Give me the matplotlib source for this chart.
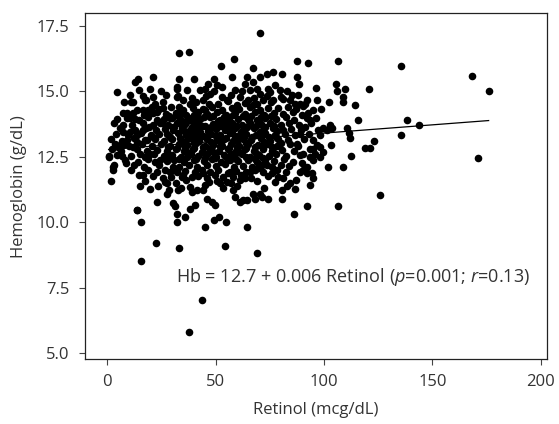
import matplotlib.pyplot as plt
import numpy as np

# (retinol mcg/dL, hemoglobin g/dL), by region
outlier_points = [
    (70.5, 17.24), (33.2, 16.44), (37.7, 16.51), (58.5, 16.22), (52.6, 15.97),
    (67.4, 15.88), (87.7, 16.15), (92.6, 16.06), (106.6, 16.15), (135.7, 15.97),
    (168.5, 15.57), (176.0, 15.00), (170.9, 12.44), (120.9, 15.08), (114.5, 14.47),
    (115.7, 13.89), (138.5, 13.89), (143.8, 13.70), (135.4, 13.31), (123.1, 13.09),
    (119.1, 12.84), (121.2, 12.84), (112.6, 12.52), (108.6, 12.11), (102.0, 12.11),
    (125.8, 11.04), (106.5, 10.62), (92.0, 10.62), (86.2, 10.31), (109.8, 15.08),
    (105.4, 15.27), (105.8, 15.00), (108.6, 14.76), (108.9, 14.59), (102.2, 14.59),
    (98.8, 14.33), (96.3, 15.14), (96.6, 14.68), (110.8, 13.58), (111.4, 13.41),
    (112.0, 13.21), (103.2, 12.96), (37.5, 5.80), (43.7, 7.01), (15.4, 8.52),
    (22.5, 9.22), (33.2, 9.01), (54.2, 9.10), (69.1, 8.83), (15.7, 9.99),
    (13.5, 10.46), (32.3, 10.00), (35.7, 10.20), (44.9, 9.82), (49.2, 10.10),
    (51.7, 10.18), (54.8, 10.00), (64.6, 9.82), (32.0, 10.31), (1.5, 11.58),
    (0.6, 12.49), (2.8, 12.11), (4.6, 14.97),
]

upper_points = [
    (20.9, 15.55), (12.8, 15.36), (14.3, 15.45), (32.9, 15.46), (40.2, 15.46),
    (49.2, 15.45), (57.5, 15.55), (64.3, 15.55), (73.5, 15.67), (76.6, 15.74),
    (80.5, 15.65), (70.5, 15.55), (67.4, 15.36), (87.7, 15.55), (88.6, 15.29),
    (7.7, 14.59), (10.8, 14.59), (16.6, 14.81), (17.4, 14.66), (32.0, 15.17),
    (32.8, 14.81), (36.6, 15.04), (42.8, 15.04), (50.5, 15.23), (52.8, 15.17),
    (49.2, 15.00), (58.9, 15.06), (65.8, 15.04), (68.9, 15.10), (70.5, 14.91),
    (77.4, 15.23), (79.7, 15.06), (76.6, 14.68), (84.3, 14.68), (90.5, 14.43),
    (92.0, 14.66), (47.4, 14.91), (44.3, 14.66), (51.2, 14.53), (55.1, 14.66),
    (61.2, 14.78), (65.1, 14.66), (67.4, 14.47), (72.0, 14.66), (81.2, 14.72),
    (85.1, 14.85), (88.9, 14.53), (63.5, 15.29), (75.1, 14.97), (91.2, 14.53),
]

left_points = [
    (14.8, 15.04), (17.8, 14.68), (7.1, 14.15), (8.9, 14.15), (4.3, 13.92),
    (7.4, 13.70), (10.5, 13.96), (12.8, 13.92), (10.5, 13.45), (7.4, 13.45),
    (8.9, 13.13), (5.8, 12.94), (13.5, 14.27), (16.3, 14.27), (18.9, 14.27),
    (21.2, 14.15), (25.8, 14.34), (22.8, 13.89), (25.1, 13.77), (19.4, 13.64),
    (16.6, 13.51), (13.5, 13.32), (13.5, 13.07), (18.2, 13.13), (21.2, 13.26),
    (28.9, 13.96), (32.3, 15.10), (32.0, 14.78), (35.1, 14.66), (33.2, 14.40),
    (33.5, 14.15), (30.5, 13.64), (27.4, 13.38), (34.3, 13.70), (38.2, 13.89),
    (41.2, 14.08), (46.6, 15.29), (45.1, 14.27),
]

lower_points = [
    (0.9, 12.52), (3.1, 12.18), (2.8, 12.01), (6.6, 12.52), (8.6, 12.26),
    (10.8, 12.01), (14.8, 11.79), (16.6, 11.79), (15.1, 11.37), (19.7, 11.28),
    (22.8, 10.78), (13.5, 10.48), (25.5, 11.67), (26.6, 11.54), (27.7, 11.48),
    (28.6, 11.22), (27.7, 11.09), (32.8, 11.22), (30.5, 10.74), (31.2, 10.61),
    (38.2, 10.52), (40.5, 10.65), (38.9, 11.16), (41.2, 11.22), (5.1, 12.88),
    (7.4, 12.94), (12.0, 12.88), (15.1, 12.62), (17.4, 12.49), (19.7, 12.62),
    (22.0, 12.30), (24.3, 12.37), (28.9, 11.92), (30.5, 12.11), (34.3, 11.73),
    (38.2, 11.35), (44.3, 11.86), (44.3, 11.22), (45.8, 10.90), (48.2, 10.78),
    (49.7, 10.65), (58.2, 11.22), (58.9, 10.97), (61.2, 10.78), (62.8, 10.84),
    (64.3, 10.84), (67.4, 11.09), (70.5, 11.09), (68.2, 10.90), (71.2, 10.97),
    (74.3, 10.90), (80.5, 11.22), (80.5, 10.90), (93.5, 11.41), (52.0, 11.48),
    (53.5, 11.73), (55.1, 11.54), (56.6, 11.92), (61.2, 11.60), (63.5, 11.67),
    (65.8, 11.92), (69.7, 12.05), (73.5, 12.18), (75.8, 11.86), (78.2, 11.98),
    (81.2, 11.67), (84.3, 11.48), (86.6, 11.28), (88.9, 11.92), (92.0, 12.11),
    (94.3, 11.86),
]

right_points = [
    (92.8, 14.15), (93.5, 13.89), (95.1, 14.27), (92.0, 13.96), (102.8, 13.70),
    (103.5, 13.58), (101.2, 13.51), (99.7, 13.58), (97.4, 13.51), (98.2, 13.32),
    (95.1, 13.13), (95.1, 12.81), (93.5, 12.81), (96.6, 12.94), (98.2, 12.88),
    (99.7, 12.68), (95.8, 12.62), (98.2, 12.49), (93.5, 12.49), (95.1, 12.37),
    (90.5, 12.62), (89.7, 12.24), (90.5, 11.98), (92.0, 11.86), (95.1, 11.67),
    (91.2, 13.64), (88.9, 13.38), (87.4, 13.00),
]

core_points = [
    (10.5, 14.84), (21, 14.76), (27, 14.86), (39, 14.74), (45.5, 14.83), (53, 14.77),
    (57, 14.87), (67.5, 14.73), (73.5, 14.82), (80, 14.78), (88, 14.85),
    (19.5, 15.09), (25, 15.01), (45, 15.08), (62, 15.02), (74, 15.10), (83, 15.00),
    (12, 14.58), (22, 14.51), (25.5, 14.60), (38, 14.50), (41, 14.57), (47, 14.52),
    (55.5, 14.61), (60, 14.49), (63.5, 14.56), (69, 14.53), (75.5, 14.59), (86.5, 14.51),
    (20.5, 14.38), (24, 14.31), (29.5, 14.40), (35, 14.30), (39.5, 14.37), (44, 14.33),
    (48.5, 14.41), (53, 14.29), (57.5, 14.36), (61, 14.32), (66, 14.39), (70.5, 14.30),
    (74, 14.37), (79, 14.34), (83.5, 14.40), (87, 14.31),
    (12, 14.18), (17, 14.11), (23, 14.20), (27, 14.12), (31.5, 14.17), (36.5, 14.10),
    (42, 14.19), (46, 14.13), (50.5, 14.21), (55, 14.09), (59, 14.16), (63.5, 14.12),
    (68, 14.19), (72.5, 14.10), (77, 14.18), (81, 14.13), (85.5, 14.20), (90, 14.11),
    (9, 13.98), (14.5, 13.91), (19, 14.00), (26, 13.92), (30, 13.97), (34, 13.90),
    (38.5, 13.99), (43, 13.93), (47.5, 14.01), (52, 13.89), (56, 13.96), (60.5, 13.92),
    (64.5, 13.99), (69, 13.90), (73, 13.98), (78, 13.93), (82.5, 14.00), (86, 13.91),
    (96.5, 13.97),
    (3, 13.79), (11.5, 13.71), (16.5, 13.80), (21, 13.72), (24.5, 13.77), (28, 13.70),
    (32, 13.79), (36, 13.73), (40.5, 13.81), (45, 13.69), (49, 13.76), (53.5, 13.72),
    (57.5, 13.79), (62, 13.70), (66, 13.78), (71, 13.73), (75, 13.80), (80, 13.71),
    (84, 13.77), (88.5, 13.72), (94, 13.79),
    (6, 13.58), (13, 13.51), (18, 13.60), (22.5, 13.52), (26.5, 13.57), (30.5, 13.50),
    (34.5, 13.59), (38, 13.53), (42, 13.61), (46.5, 13.49), (50, 13.56), (54.5, 13.52),
    (59, 13.59), (63, 13.50), (67.5, 13.58), (72, 13.53), (76.5, 13.60), (81, 13.51),
    (85, 13.57), (89.5, 13.52),
    (4, 13.38), (9.5, 13.31), (15.5, 13.40), (20, 13.32), (24, 13.37), (28.5, 13.30),
    (32.5, 13.39), (36.5, 13.33), (40, 13.41), (44, 13.29), (48, 13.36), (52, 13.32),
    (56.5, 13.39), (60, 13.30), (64, 13.38), (68.5, 13.33), (73, 13.40), (77.5, 13.31),
    (82, 13.37), (86.5, 13.32), (93, 13.38),
    (1.5, 13.18), (7, 13.11), (12.5, 13.20), (17.5, 13.12), (22, 13.17), (26, 13.10),
    (30, 13.19), (34, 13.13), (38, 13.21), (42.5, 13.09), (46, 13.16), (50.5, 13.12),
    (54, 13.19), (58, 13.10), (62.5, 13.18), (66.5, 13.13), (71, 13.20), (75, 13.11),
    (79, 13.17), (83.5, 13.12), (91, 13.18),
    (3.5, 12.98), (10, 12.91), (16, 13.00), (20.5, 12.92), (25, 12.97), (29, 12.90),
    (33, 12.99), (37, 12.93), (41, 13.01), (45, 12.89), (49, 12.96), (53, 12.92),
    (57, 12.99), (61, 12.90), (65, 12.98), (69.5, 12.93), (74, 13.00), (78.5, 12.91),
    (84.5, 12.97), (88, 12.92),
    (2, 12.78), (6.5, 12.71), (13.5, 12.80), (18.5, 12.72), (23, 12.77), (27.5, 12.70),
    (31.5, 12.79), (35.5, 12.73), (39.5, 12.81), (43.5, 12.69), (47.5, 12.76), (51.5, 12.72),
    (55.5, 12.79), (59.5, 12.70), (63.5, 12.78), (67.5, 12.73), (72, 12.80), (76, 12.71),
    (80.5, 12.77), (86, 12.72),
    (4.5, 12.58), (11, 12.51), (21.5, 12.60), (26, 12.52), (30, 12.57), (34, 12.50),
    (38.5, 12.59), (42, 12.53), (46, 12.61), (50, 12.49), (54, 12.56), (58.5, 12.52),
    (62, 12.59), (66, 12.50), (70, 12.58), (74.5, 12.53), (78, 12.60), (82.5, 12.51),
    (89, 12.57),
    (8, 12.38), (14, 12.31), (19, 12.40), (27.5, 12.32), (31, 12.37), (35.5, 12.30),
    (40, 12.39), (44.5, 12.33), (48.5, 12.41), (52.5, 12.29), (56.5, 12.36), (60.5, 12.32),
    (65, 12.39), (69, 12.30), (73, 12.38), (77, 12.33), (81.5, 12.40), (85.5, 12.31),
    (12.5, 12.18), (17, 12.11), (24, 12.20), (33, 12.12), (37.5, 12.17), (41.5, 12.10),
    (46, 12.19), (50, 12.13), (54.5, 12.21), (58.5, 12.09), (62.5, 12.16), (67, 12.12),
    (71.5, 12.19), (76, 12.10), (80, 12.18), (84, 12.13),
    (19, 11.98), (23, 11.91), (26.5, 12.00), (32, 11.92), (36, 11.97), (40.5, 11.90),
    (43.5, 11.99), (47.5, 11.93), (51, 12.01), (55.5, 11.89), (59.5, 11.96), (64, 11.92),
    (68, 11.99), (72, 11.90), (77.5, 11.98), (82.5, 11.93),
    (21, 11.78), (29.5, 11.71), (35, 11.80), (39, 11.72), (42, 11.77), (46, 11.70),
    (49.5, 11.79), (58, 11.73), (61.5, 11.81), (66.5, 11.69), (74, 11.76), (79, 11.72),
    (17.5, 11.58), (31.5, 11.51), (36.5, 11.60), (47, 11.52), (50.5, 11.57), (57, 11.50),
    (69, 11.59), (77.5, 11.53), (87, 11.61),
    (23.5, 11.38), (34, 11.31), (45, 11.40), (53.5, 11.32), (60, 11.37), (72.5, 11.30),
    (83, 11.39),
]

center_points = [
    (37, 13.87), (41.5, 13.82), (51, 13.88), (55, 13.83), (65.5, 13.86), (70, 13.81),
    (35.5, 13.47), (43, 13.43), (47, 13.48), (57.5, 13.42), (61.5, 13.46), (70.5, 13.44),
    (78.5, 13.49),
    (36, 13.07), (40, 13.03), (48, 13.06), (52.5, 13.02), (60, 13.08), (64, 13.04),
    (72.5, 13.05), (80, 13.01),
    (37, 12.67), (44.5, 12.63), (49, 12.68), (57, 12.62), (61, 12.66), (68.5, 12.64),
    (76.5, 12.69),
    (45.5, 13.27), (55, 13.23), (67, 13.26), (74.5, 13.24),
    (28.5, 14.07), (33, 14.02), (40, 14.08), (44.5, 14.03), (49, 14.06), (54, 14.01),
    (58, 14.09), (62.5, 14.04), (66.5, 14.07), (71, 14.02), (75.5, 14.06),
    (27, 13.67), (31, 13.63), (35, 13.68), (39, 13.62), (43.5, 13.66), (48, 13.64),
    (52, 13.69), (56, 13.63), (60, 13.67), (64.5, 13.62), (68.5, 13.66), (73, 13.64),
    (77, 13.68),
    (29, 13.27), (33.5, 13.22), (37.5, 13.26), (41.5, 13.23), (50, 13.28), (59, 13.22),
    (63, 13.25), (71, 13.21), (78, 13.27),
    (28, 12.87), (32, 12.83), (36, 12.88), (40, 12.82), (44, 12.86), (48, 12.84),
    (52, 12.89), (56, 12.83), (60, 12.87), (64, 12.82), (68, 12.86), (72, 12.84),
    (76, 12.88),
    (29, 12.47), (33, 12.43), (37, 12.48), (41, 12.42), (45, 12.46), (49.5, 12.44),
    (55, 12.49), (59.5, 12.43), (64, 12.47), (68, 12.42), (72, 12.46),
]

# fitted line as drawn in the figure
line_intercept = 12.77
line_slope = 0.0063

x_ticks = [0, 50, 100, 150, 200]
y_ticks = [5.0, 7.5, 10.0, 12.5, 15.0, 17.5]

all_points = (outlier_points + upper_points + left_points + lower_points
              + right_points + core_points + center_points)
retinol = np.array([p[0] for p in all_points])
hemoglobin = np.array([p[1] for p in all_points])

plt.rcParams['font.family'] = ['Open Sans', 'DejaVu Sans']
plt.rcParams['mathtext.fontset'] = 'custom'
plt.rcParams['mathtext.rm'] = 'Open Sans'
plt.rcParams['mathtext.it'] = 'Open Sans:italic'

text_color = '#333333'

fig = plt.figure(figsize=(5.59, 4.24), dpi=100)
ax = fig.add_axes([0.152, 0.153, 0.826, 0.816])

ax.scatter(retinol, hemoglobin, s=30, color='black', linewidths=0, zorder=2)

line_x = np.array([retinol.min(), retinol.max()])
ax.plot(line_x, line_intercept + line_slope * line_x, color='black', lw=0.9, zorder=3)

ax.text(31.7, 7.91, r'Hb = 12.7 + 0.006 Retinol ($\it{p}$=0.001; $\it{r}$=0.13)',
        ha='left', va='center', fontsize=13, color=text_color)

ax.set_xlim(-10.3, 202.8)
ax.set_ylim(4.77, 17.98)
ax.set_xticks(x_ticks)
ax.set_xticklabels([str(t) for t in x_ticks])
ax.set_yticks(y_ticks)
ax.set_yticklabels([f'{t:.1f}' for t in y_ticks])
ax.tick_params(direction='out', length=4, width=0.8, colors='#444444',
               labelcolor=text_color, labelsize=12, pad=7)
for side in ax.spines.values():
    side.set_linewidth(0.9)
    side.set_color('#222222')

ax.set_xlabel('Retinol (mcg/dL)', fontsize=12, color=text_color, labelpad=8)
ax.set_ylabel('Hemoglobin (g/dL)', fontsize=12, color=text_color, labelpad=7)

fig.savefig('out.png', dpi=100)
